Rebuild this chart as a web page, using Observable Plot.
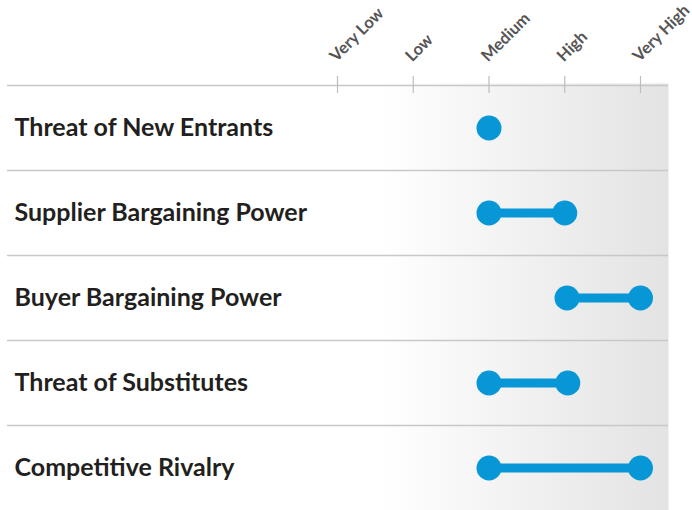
<!DOCTYPE html>
<html>
<head>
<meta charset="utf-8">
<script src="https://cdn.jsdelivr.net/npm/d3@7"></script>
<script src="https://cdn.jsdelivr.net/npm/@observablehq/plot@0.6"></script>
<style>
  html, body { margin: 0; padding: 0; background: #fff; overflow: hidden; }
  #chart svg { display: block; }
</style>
</head>
<body>
<div id="chart"></div>
<script>
// Categories (rows, top to bottom)
const forces = ["Threat of New Entrants", "Supplier Bargaining Power", "Buyer Bargaining Power", "Threat of Substitutes", "Competitive Rivalry"];
// Range of each force on the 1–5 scale (Very Low .. Very High)
const lowValues = [3, 3, 4.03, 3, 3];
const highValues = [3, 4, 5, 4.04, 5];
// Tick labels on the scale
const levelLabels = ["Very Low", "Low", "Medium", "High", "Very High"];
const levelValues = [1, 2, 3, 4, 5];

const rows = forces.map((name, i) => ({name, pos: i + 0.5, low: lowValues[i], high: highValues[i]}));
const dots = rows.flatMap(r => r.low === r.high ? [{pos: r.pos, v: r.low}] : [{pos: r.pos, v: r.low}, {pos: r.pos, v: r.high}]);
const ticks = levelValues.map((v, i) => ({v, label: levelLabels[i]}));
const separators = d3.range(forces.length);

const blue = "#0796d6";

const chart = Plot.plot({
  width: 692,
  height: 510,
  marginTop: 85,
  marginBottom: 0,
  marginLeft: 7,
  marginRight: 24,
  style: {fontFamily: "Lato, sans-serif", background: "transparent"},
  x: {domain: [1, 5], range: [337, 640], axis: null},
  y: {domain: [0, forces.length], range: [85, 510], axis: null},
  marks: [
    Plot.frame({fill: "url(#bgGrad)", stroke: null, insetLeft: 373, insetTop: -2}),
    Plot.ruleY(separators, {stroke: "#c8c8c8", strokeWidth: 1.5}),
    Plot.ruleX(levelValues, {stroke: "#bdbdbd", strokeWidth: 1.2, insetTop: -9, insetBottom: 417}),
    Plot.text(ticks, {
      x: "v", text: "label", frameAnchor: "top", dy: -23, dx: -1,
      rotate: -45, textAnchor: "start", lineAnchor: "bottom",
      fontSize: 16.5, fontWeight: "bold", fill: "#555555"
    }),
    Plot.text(rows, {
      y: "pos", text: "name", frameAnchor: "left", dx: 7, textAnchor: "start",
      fontSize: 25, fontWeight: "bold", fill: "#231f20"
    }),
    Plot.link(rows.filter(r => r.low !== r.high), {
      x1: "low", x2: "high", y1: "pos", y2: "pos", stroke: blue, strokeWidth: 9
    }),
    Plot.dot(dots, {x: "v", y: "pos", r: 12.5, fill: blue, stroke: null})
  ]
});

// gradient definition for the background panel
const svgNS = "http://www.w3.org/2000/svg";
const defs = document.createElementNS(svgNS, "defs");
const grad = document.createElementNS(svgNS, "linearGradient");
grad.setAttribute("id", "bgGrad");
grad.setAttribute("x1", "0"); grad.setAttribute("x2", "1");
grad.setAttribute("y1", "0"); grad.setAttribute("y2", "0");
[["0", "#ffffff"], ["1", "#e3e3e4"]].forEach(([o, c]) => {
  const s = document.createElementNS(svgNS, "stop");
  s.setAttribute("offset", o); s.setAttribute("stop-color", c);
  grad.appendChild(s);
});
defs.appendChild(grad);
chart.insertBefore(defs, chart.firstChild);

document.getElementById("chart").appendChild(chart);
</script>
</body>
</html>
